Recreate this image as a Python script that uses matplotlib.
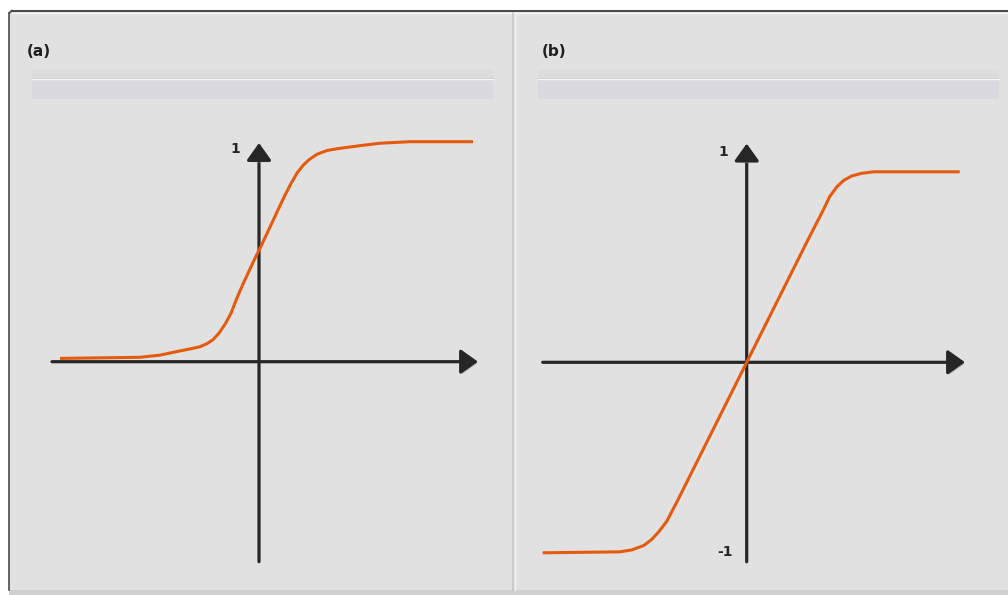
import matplotlib
matplotlib.use("Agg")
import matplotlib.pyplot as plt
import matplotlib.patheffects as pe
from matplotlib.patches import Rectangle

# ---- data ----
# panel (a): logistic-like curve, 0 -> 1
sig_x = [-1.99, -1.19, -0.99, -0.79, -0.69, -0.59, -0.52, -0.46, -0.40, -0.34,
         -0.28, -0.22, -0.16, -0.10, -0.04, 0.02, 0.08, 0.14, 0.20, 0.26,
         0.32, 0.38, 0.44, 0.50, 0.58, 0.68, 0.81, 1.01, 1.21, 1.51, 2.14]
sig_y = [0.015, 0.020, 0.030, 0.049, 0.058, 0.068, 0.082, 0.100, 0.130, 0.170,
         0.220, 0.290, 0.353, 0.412, 0.470, 0.525, 0.583, 0.641, 0.700, 0.757,
         0.810, 0.857, 0.892, 0.918, 0.943, 0.960, 0.970, 0.982, 0.993, 1.0, 1.0]

# panel (b): saturating curve, -1 -> 1
tanh_x = [-2.04, -1.27, -1.15, -1.03, -0.95, -0.88, -0.80, -0.75, -0.70, -0.50,
          -0.30, -0.10, 0.0, 0.2, 0.4, 0.6, 0.766, 0.83, 0.90, 0.97,
          1.05, 1.15, 1.27, 2.13]
tanh_y = [-1.0, -0.995, -0.985, -0.962, -0.930, -0.890, -0.835, -0.785, -0.735, -0.525,
          -0.315, -0.105, 0.0, 0.21, 0.42, 0.63, 0.80, 0.87, 0.92, 0.955,
          0.978, 0.992, 1.0, 1.0]

panel_labels = ["(a)", "(b)"]
ytick_a = ["1"]
ytick_b = ["1", "-1"]

W, H = 1008, 595
BG = "#e1e1e1"
ORANGE = "#e65a0e"
AXC = "#262626"

fig = plt.figure(figsize=(W / 100, H / 100), dpi=100)
fig.patch.set_facecolor("white")

# background "window" drawn in pixel coordinates
bg = fig.add_axes([0, 0, 1, 1])
bg.set_xlim(0, W)
bg.set_ylim(H, 0)
bg.axis("off")
bg.add_patch(Rectangle((9, 10), W - 9, 580, facecolor=BG, edgecolor="none"))
bg.add_patch(Rectangle((9, 590), W - 9, 5, facecolor="#d0d0d0", edgecolor="none"))
bg.plot([12, W], [10.5, 10.5], color="#3a3a3a", lw=1.3)
bg.plot([12, W], [12.5, 12.5], color="#f4f4f4", lw=1.0)
bg.plot([9, 9], [13, 590], color="#4a4a4a", lw=1.2)
bg.plot([9.5, 12], [13, 10.5], color="#4a4a4a", lw=1.2)
bg.plot([513, 513], [13, 590], color="#c9c9c9", lw=1.3)
bg.plot([515, 515], [13, 590], color="#f2f2f2", lw=1.0)

for x0, x1, lab, tx in [(32, 493, panel_labels[0], 27), (538, 999, panel_labels[1], 542)]:
    bg.add_patch(Rectangle((x0, 70), x1 - x0, 7, facecolor="#dcdcdc", edgecolor="none"))
    bg.plot([x0, x1], [77.5, 77.5], color="#c8c8c8", lw=1.0)
    bg.plot([x0, x1], [79.3, 79.3], color="#f6f6f6", lw=1.0)
    bg.add_patch(Rectangle((x0, 80), x1 - x0, 19, facecolor="#d9d9df", edgecolor="none"))
    bg.text(tx, 51, lab, fontsize=11, fontweight="bold", color="#1e1e1e",
            ha="left", va="center", family="DejaVu Sans")


def make_panel(px0, px1, ox, oy, yunit):
    """axes over pixel box px0..px1 (x) and 110..580 (y), origin at (ox, oy)"""
    left = px0 / W
    bottom = (H - 580) / H
    ax = fig.add_axes([left, bottom, (px1 - px0) / W, 470 / H])
    ax.set_xlim((px0 - ox) / 100, (px1 - ox) / 100)
    ax.set_ylim((oy - 580) / yunit, (oy - 110) / yunit)
    ax.axis("off")
    ax.patch.set_alpha(0)
    return ax


def draw_arrow(ax, start, tip):
    ax.annotate("", xy=tip, xytext=start,
                arrowprops=dict(arrowstyle="-|>,head_length=0.7,head_width=0.5",
                                lw=2.3, color=AXC, mutation_scale=15,
                                shrinkA=0, shrinkB=0,
                                path_effects=[pe.SimplePatchShadow(offset=(1.5, -1.5),
                                                                   shadow_rgbFace="#b5b5b5",
                                                                   alpha=0.6),
                                              pe.Normal()]))


# panel (a)
ax_a = make_panel(30, 500, 259, 361.7, 220)
draw_arrow(ax_a, (-2.07, 0), (2.19, 0))
draw_arrow(ax_a, (0, -0.909), (0, 0.994))
ax_a.plot(sig_x, sig_y, color=ORANGE, lw=2.2, solid_capstyle="butt",
          solid_joinstyle="round", zorder=5)
ax_a.text(-0.24, 0.967, ytick_a[0], fontsize=10, fontweight="bold", color=AXC,
          ha="center", va="center")

# panel (b)
ax_b = make_panel(520, 1000, 746.7, 362.3, 190.5)
draw_arrow(ax_b, (-2.04, 0), (2.183, 0))
draw_arrow(ax_b, (0, -1.047), (0, 1.148))
ax_b.plot(tanh_x, tanh_y, color=ORANGE, lw=2.2, solid_capstyle="butt",
          solid_joinstyle="round", zorder=5)
ax_b.text(-0.237, 1.104, ytick_b[0], fontsize=10, fontweight="bold", color=AXC,
          ha="center", va="center")
ax_b.text(-0.217, -0.996, ytick_b[1], fontsize=10, fontweight="bold", color=AXC,
          ha="center", va="center")

fig.savefig("out.png", dpi=100, facecolor=fig.get_facecolor())
